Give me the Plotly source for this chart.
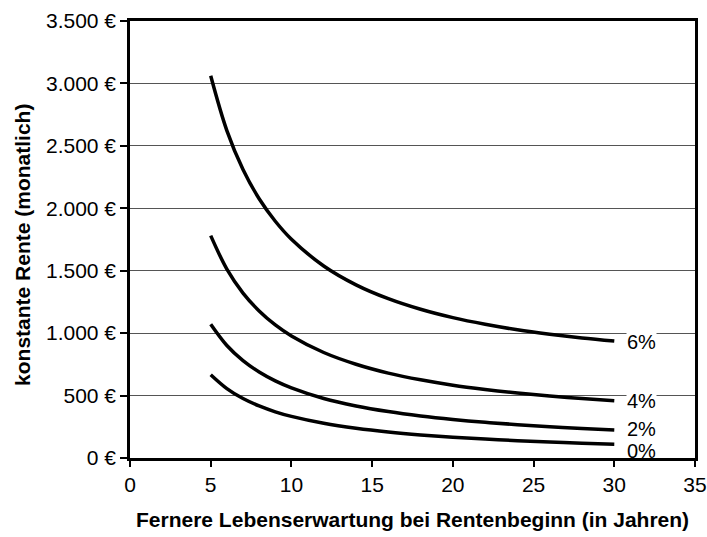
import plotly.graph_objects as go

# ---------------------------------------------------------------------------
# Data
# ---------------------------------------------------------------------------

years = [5, 6, 7, 8, 9, 10, 12, 14, 16, 18, 20, 22, 24, 26, 28, 30]

rente_0 = [667, 556, 476, 417, 370, 333, 278, 238, 208, 185, 167, 152, 139, 128, 119, 111]
rente_2 = [1071, 901, 780, 689, 618, 562, 477, 417, 372, 337, 309, 286, 267, 251, 237, 225]
rente_4 = [1781, 1513, 1321, 1178, 1066, 978, 845, 751, 680, 626, 583, 549, 520, 496, 476, 459]
rente_6 = [3061, 2622, 2310, 2076, 1896, 1752, 1538, 1387, 1276, 1191, 1124, 1071, 1027, 992, 962, 937]

series_labels = ["0%", "2%", "4%", "6%"]

y_ticks = [0, 500, 1000, 1500, 2000, 2500, 3000, 3500]
y_ticktext = ["0 €", "500 €", "1.000 €", "1.500 €", "2.000 €", "2.500 €", "3.000 €", "3.500 €"]
x_ticks = [0, 5, 10, 15, 20, 25, 30, 35]

# ---------------------------------------------------------------------------
# Figure
# ---------------------------------------------------------------------------

FONT = "Liberation Sans, Arial, sans-serif"

fig = go.Figure()
for name, vals in zip(series_labels, [rente_0, rente_2, rente_4, rente_6]):
    fig.add_trace(go.Scatter(
        x=years, y=vals, mode="lines", name=name,
        line={"color": "black", "width": 3.5, "shape": "spline"},
        showlegend=False,
    ))

# curve labels at the right end, white box hides the gridline
label_y = {"6%": 930, "4%": 455, "2%": 232, "0%": 58}
for name in series_labels:
    fig.add_annotation(
        x=30.7, y=label_y[name], text=name, showarrow=False,
        xanchor="left", yanchor="middle",
        bgcolor="white" if name in ("6%", "4%") else None, borderpad=0,
        font={"family": FONT, "size": 20, "color": "black"},
    )

fig.add_annotation(
    x=0.5, y=-0.14, xref="paper", yref="paper", showarrow=False,
    xanchor="center", yanchor="middle",
    text="<b>Fernere Lebenserwartung bei Rentenbeginn (in Jahren)</b>",
    font={"family": FONT, "size": 21, "color": "black"},
)
fig.add_annotation(
    x=-0.189, y=0.488, xref="paper", yref="paper", showarrow=False, textangle=-90,
    xanchor="center", yanchor="middle",
    text="<b>konstante Rente (monatlich)</b>",
    font={"family": FONT, "size": 21, "color": "black"},
)

fig.update_layout(
    width=707, height=537,
    margin={"l": 130, "r": 12, "t": 21, "b": 79},
    paper_bgcolor="white", plot_bgcolor="white",
    font={"family": FONT, "size": 21, "color": "black"},
    xaxis={
        "range": [0, 35], "tickvals": x_ticks, "automargin": False,
        "showgrid": False, "zeroline": False,
        "showline": True, "linecolor": "black", "linewidth": 2.5, "mirror": True,
        "ticks": "outside", "ticklen": 6, "tickwidth": 2, "tickcolor": "black",
    },
    yaxis={
        "range": [0, 3500], "tickvals": y_ticks, "ticktext": y_ticktext,
        "automargin": False,
        "showgrid": True, "gridcolor": "#555555", "gridwidth": 1,
        "zeroline": False,
        "showline": True, "linecolor": "black", "linewidth": 2.5, "mirror": True,
        "ticks": "outside", "ticklen": 7, "tickwidth": 2, "tickcolor": "black",
    },
)

# drop the browser's default body margin so the figure sits at the page corner
fig.write_html(
    "out.html",
    config={"displayModeBar": False},
    post_script="document.body.style.margin = '0';",
)
